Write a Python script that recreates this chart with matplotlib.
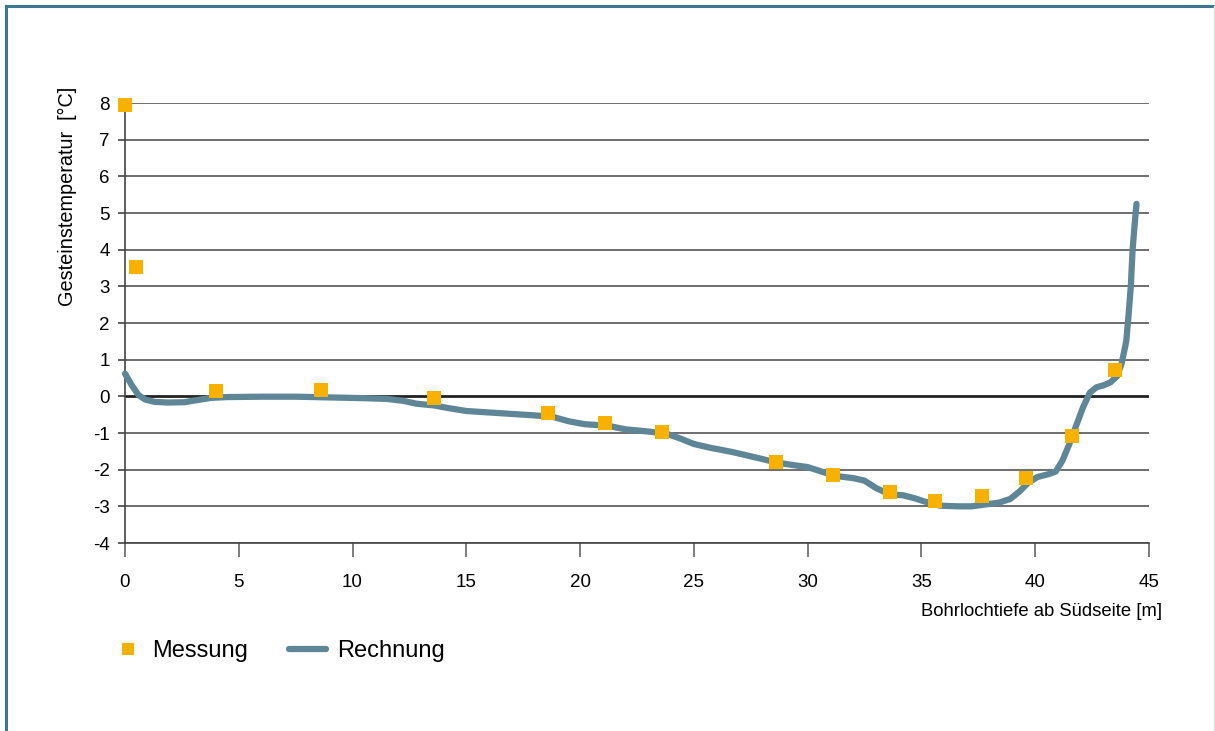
import matplotlib
matplotlib.use("Agg")
import matplotlib.pyplot as plt
from matplotlib.lines import Line2D

plt.rcParams['font.family'] = ['Liberation Sans', 'DejaVu Sans']

# Measured points
mess_x = [0.0, 0.48, 4.0, 8.6, 13.6, 18.6, 21.1, 23.6, 28.6, 31.1, 33.6, 35.6, 37.65, 39.6, 41.6, 43.5]
mess_y = [7.95, 3.52, 0.14, 0.16, -0.05, -0.46, -0.74, -0.98, -1.8, -2.15, -2.62, -2.86, -2.73, -2.24, -1.09, 0.71]

# Calculated curve
rech_x = [0.0, 0.3, 0.6, 0.9, 1.3, 1.9, 2.6, 3.2, 3.8, 4.5, 6.0, 7.5, 9.0, 10.5, 11.5,
          12.2, 12.8, 13.6, 14.2, 15.0, 16.5, 18.0, 18.8, 19.5, 20.2, 21.2, 22.0, 23.0,
          23.8, 24.4, 25.0, 25.7, 26.7, 27.8, 28.6, 29.3, 30.0, 30.6, 31.2, 32.0, 32.5,
          33.0, 33.6, 34.2, 34.7, 35.3, 35.8, 36.6, 37.2, 37.8, 38.4, 38.9, 39.3, 39.7,
          40.1, 40.6, 40.9, 41.2, 41.5, 41.8, 42.1, 42.4, 42.7, 43.0, 43.3, 43.6, 43.8,
          44.0, 44.1, 44.2, 44.28, 44.37, 44.45]
rech_y = [0.62, 0.3, 0.03, -0.09, -0.15, -0.17, -0.16, -0.1, -0.04, -0.02, -0.01, -0.01,
          -0.03, -0.05, -0.07, -0.12, -0.2, -0.25, -0.32, -0.4, -0.46, -0.52, -0.56, -0.68,
          -0.76, -0.8, -0.9, -0.96, -1.02, -1.15, -1.3, -1.4, -1.52, -1.68, -1.8, -1.87,
          -1.93, -2.05, -2.17, -2.23, -2.3, -2.5, -2.67, -2.7, -2.78, -2.9, -2.98, -3.0,
          -3.0, -2.95, -2.9, -2.8, -2.6, -2.35, -2.2, -2.12, -2.05, -1.75, -1.3, -0.8,
          -0.3, 0.1, 0.25, 0.3, 0.38, 0.55, 0.9, 1.5, 2.2, 3.0, 4.0, 4.7, 5.25]

x_ticks = [0, 5, 10, 15, 20, 25, 30, 35, 40, 45]
y_ticks = [-4, -3, -2, -1, 0, 1, 2, 3, 4, 5, 6, 7, 8]

ORANGE = '#F9B100'
LINEC = '#5E8696'
FRAME = '#3A7891'

fig = plt.figure(figsize=(12.15, 7.31), dpi=100)
ax = fig.add_axes([125/1215, 1-543/731, (1149-125)/1215, (543-103)/731])
ax.set_xlim(0, 45)
ax.set_ylim(-4, 8)
ax.set_xticks(x_ticks)
ax.set_yticks(y_ticks)
ax.set_yticklabels([str(v) for v in y_ticks])

for yv in y_ticks:
    if yv == 0:
        ax.axhline(0, color='#222222', lw=2.0, zorder=1)
    else:
        ax.axhline(yv, color='#555555', lw=1.2, zorder=1)

for s in ['top', 'right']:
    ax.spines[s].set_visible(False)
ax.spines['left'].set_color('#444444')
ax.spines['bottom'].set_color('#444444')
ax.spines['left'].set_linewidth(1.2)
ax.spines['bottom'].set_linewidth(1.2)
ax.tick_params(axis='x', direction='out', length=10, width=1.2, color='#666666',
               labelsize=13.5, pad=12)
ax.tick_params(axis='y', direction='out', length=5, width=1.2, color='#444444',
               labelsize=13.5, pad=6)

ax.plot(rech_x, rech_y, color=LINEC, lw=4.5, solid_capstyle='round',
        solid_joinstyle='round', zorder=3, clip_on=False)
ax.plot(mess_x, mess_y, linestyle='none', marker='s', markersize=9.5,
        color=ORANGE, markeredgewidth=0, zorder=4, clip_on=False)

fig.text(67/1215, 1-196/731, 'Gesteinstemperatur  [°C]', rotation=90,
         ha='center', va='center', fontsize=14.3)
fig.text(1162/1215, 1-611/731, 'Bohrlochtiefe ab Südseite [m]',
         ha='right', va='center', fontsize=13.3)

h1 = Line2D([], [], linestyle='none', marker='s', markersize=9,
            color=ORANGE, markeredgewidth=0)
h2 = Line2D([], [], color=LINEC, lw=4.5, solid_capstyle='round')
leg1 = fig.legend([h1], ['Messung'], loc='center left',
                  bbox_to_anchor=(108/1215, 1-651/731), frameon=False,
                  fontsize=17, handlelength=1.7, handletextpad=0.17,
                  borderaxespad=0, borderpad=0)
leg2 = fig.legend([h2], ['Rechnung'], loc='center left',
                  bbox_to_anchor=(289/1215, 1-651/731), frameon=False,
                  fontsize=17, handlelength=1.55, handletextpad=0.5,
                  borderaxespad=0, borderpad=0)

# frame lines
fig.add_artist(Line2D([6/1215, 6/1215], [0, 1-6/731], color=FRAME, lw=2.2,
                      transform=fig.transFigure))
fig.add_artist(Line2D([6/1215, 1], [1-6/731, 1-6/731], color=FRAME, lw=2.2,
                      transform=fig.transFigure))
fig.add_artist(Line2D([1214/1215, 1214/1215], [0, 1-6/731], color='#e6e6e6', lw=1,
                      transform=fig.transFigure))

fig.savefig('out.png', dpi=100)
